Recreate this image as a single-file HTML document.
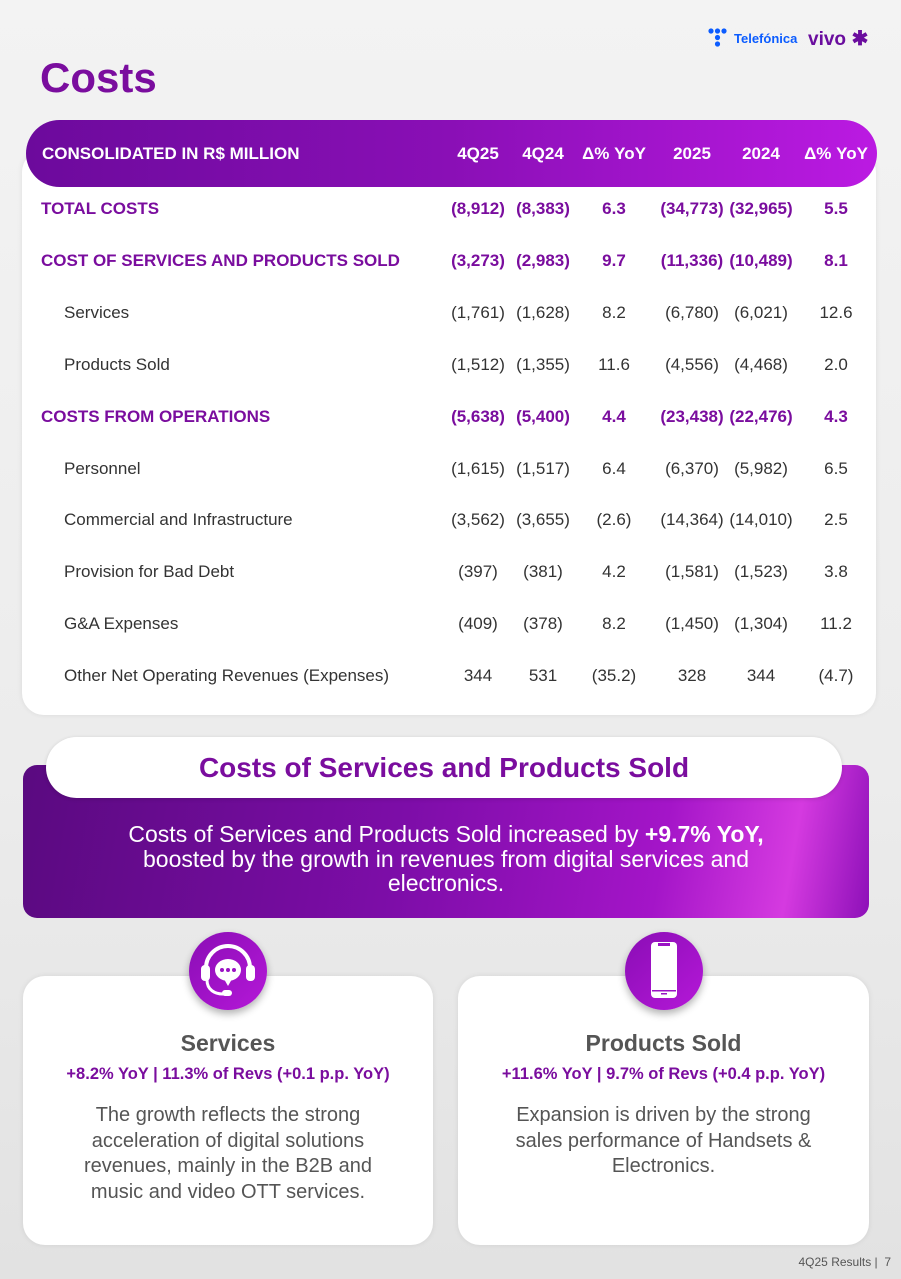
<!DOCTYPE html>
<html><head><meta charset="utf-8">
<style>
*{margin:0;padding:0;box-sizing:border-box}
body{width:901px;height:1279px;overflow:hidden;font-family:"Liberation Sans",sans-serif;background:linear-gradient(180deg,#f3f3f3 0%,#ececec 60%,#e2e2e2 100%);position:relative}
.abs{position:absolute}
.title{left:40px;top:54px;font-size:42px;font-weight:bold;color:#7a0d9e}
.card{background:#fff;border-radius:22px;box-shadow:0 0 6px rgba(0,0,0,.08)}
.hdr{left:26px;top:120px;width:851px;height:67px;border-radius:34px;background:linear-gradient(90deg,#6c0a9c 0%,#8a0fb6 50%,#bb1ae2 100%);color:#fff;font-weight:bold;font-size:17px}
.cell{position:absolute;transform:translateX(-50%);white-space:nowrap;font-size:17px}
.row{position:absolute;left:0;width:901px;height:24px}
.lbl{position:absolute;white-space:nowrap;font-size:17px}
.b{font-weight:bold;color:#7a0d9e}
.n{color:#333}
.banner{left:23px;top:765px;width:846px;height:153px;border-radius:14px;background:linear-gradient(100deg,#5a0a80 0%,#7d0da8 45%,#a415c8 75%,#d53ae0 90%,#8d10b8 100%)}
.pill{left:46px;top:737px;width:796px;height:61px;border-radius:31px;background:#fff;text-align:center;line-height:61px;font-size:28px;font-weight:bold;color:#7a0d9e;box-shadow:0 1px 4px rgba(0,0,0,.15)}
.btxt{left:23px;top:822px;width:846px;text-align:center;color:#fff;font-size:23px;line-height:24.5px;font-weight:400}
.btxt b{font-weight:700}
.icon{width:78px;height:78px;border-radius:50%;background:linear-gradient(135deg,#8a0db5,#b518d8);box-shadow:0 4px 8px rgba(0,0,0,.3)}
.ct{text-align:center;font-size:23px;font-weight:bold;color:#555}
.cs{text-align:center;font-size:16.5px;font-weight:bold;color:#7a0d9e}
.cb{text-align:center;font-size:20px;color:#555;line-height:25.5px}
</style></head><body>
<div class="abs" style="left:708px;top:28px;width:92px;height:24px">
<svg width="24" height="24" class="abs" style="left:0;top:0"><g fill="#0b5cff"><circle cx="3" cy="3" r="2.6"/><circle cx="9.5" cy="3" r="2.6"/><circle cx="16" cy="3" r="2.6"/><circle cx="9.5" cy="9.5" r="2.6"/><circle cx="9.5" cy="16" r="2.6"/></g></svg>
<span class="abs" style="left:26px;top:3px;font-size:13px;font-weight:bold;color:#0b5cff">Telefónica</span></div>
<div class="abs" style="left:808px;top:26px;font-size:19px;font-weight:bold;color:#6a0d9e">vivo<span style="font-size:20px"> ✱</span></div>
<div class="abs title">Costs</div>

<div class="abs card" style="left:22px;top:150px;width:854px;height:565px"></div>
<div class="abs hdr">
<span class="abs" style="left:16px;top:24px">CONSOLIDATED IN R$ MILLION</span>
<span class="cell" style="left:452px;top:24px">4Q25</span>
<span class="cell" style="left:517px;top:24px">4Q24</span>
<span class="cell" style="left:588px;top:24px">Δ% YoY</span>
<span class="cell" style="left:666px;top:24px">2025</span>
<span class="cell" style="left:735px;top:24px">2024</span>
<span class="cell" style="left:810px;top:24px">Δ% YoY</span>
</div>
<div id="rows"></div>

<div class="abs banner"></div>
<div class="abs pill">Costs of Services and Products Sold</div>
<div class="abs btxt">Costs of Services and Products Sold increased by <b>+9.7% YoY,</b><br>boosted by the growth in revenues from digital services and<br>electronics.</div>

<div class="abs card" style="left:23px;top:976px;width:410px;height:269px"></div>
<div class="abs card" style="left:458px;top:976px;width:411px;height:269px"></div>
<div class="abs icon" style="left:189px;top:932px">
<svg width="78" height="78" viewBox="0 0 78 78"><g fill="#fff"><rect x="12" y="33" width="9" height="16" rx="4"/><rect x="57" y="33" width="9" height="16" rx="4"/><path d="M17 36a22 22 0 0 1 44 0" fill="none" stroke="#fff" stroke-width="4"/><ellipse cx="39" cy="38" rx="13" ry="11"/><path d="M35 47l4 7 4-7z"/><path d="M18 48c0 10 8 14 16 14" fill="none" stroke="#fff" stroke-width="3"/><rect x="33" y="58" width="10" height="6" rx="3"/></g><g fill="#9a12c4"><circle cx="33" cy="38" r="2"/><circle cx="39" cy="38" r="2"/><circle cx="45" cy="38" r="2"/></g></svg></div>
<div class="abs icon" style="left:625px;top:932px">
<svg width="78" height="78" viewBox="0 0 78 78"><rect x="26" y="10" width="26" height="56" rx="4" fill="#fff"/><rect x="33" y="11" width="12" height="3" fill="#9a12c4"/><rect x="27" y="58" width="24" height="1.5" fill="#9a12c4"/><rect x="36" y="61" width="6" height="1.5" fill="#9a12c4"/></svg></div>

<div class="abs ct" style="left:23px;top:1030px;width:410px">Services</div>
<div class="abs cs" style="left:23px;top:1065px;width:410px">+8.2% YoY | 11.3% of Revs (+0.1 p.p. YoY)</div>
<div class="abs cb" style="left:23px;top:1103px;width:410px">The growth reflects the strong<br>acceleration of digital solutions<br>revenues, mainly in the B2B and<br>music and video OTT services.</div>
<div class="abs ct" style="left:458px;top:1030px;width:411px">Products Sold</div>
<div class="abs cs" style="left:458px;top:1065px;width:411px">+11.6% YoY | 9.7% of Revs (+0.4 p.p. YoY)</div>
<div class="abs cb" style="left:458px;top:1103px;width:411px">Expansion is driven by the strong<br>sales performance of Handsets &amp;<br>Electronics.</div>

<div class="abs" style="right:10px;top:1255px;font-size:12px;color:#555">4Q25 Results |&nbsp; 7</div>

<script>
const labels=["TOTAL COSTS","COST OF SERVICES AND PRODUCTS SOLD","Services","Products Sold","COSTS FROM OPERATIONS","Personnel","Commercial and Infrastructure","Provision for Bad Debt","G&A Expenses","Other Net Operating Revenues (Expenses)"];
const bold=[1,1,0,0,1,0,0,0,0,0];
const q25=["(8,912)","(3,273)","(1,761)","(1,512)","(5,638)","(1,615)","(3,562)","(397)","(409)","344"];
const q24=["(8,383)","(2,983)","(1,628)","(1,355)","(5,400)","(1,517)","(3,655)","(381)","(378)","531"];
const dq=["6.3","9.7","8.2","11.6","4.4","6.4","(2.6)","4.2","8.2","(35.2)"];
const y25=["(34,773)","(11,336)","(6,780)","(4,556)","(23,438)","(6,370)","(14,364)","(1,581)","(1,450)","328"];
const y24=["(32,965)","(10,489)","(6,021)","(4,468)","(22,476)","(5,982)","(14,010)","(1,523)","(1,304)","344"];
const dy=["5.5","8.1","12.6","2.0","4.3","6.5","2.5","3.8","11.2","(4.7)"];
const colX=[478,543,614,692,761,836];
const host=document.getElementById('rows');
labels.forEach((l,i)=>{
 const r=document.createElement('div');
 r.className='row';
 
 
 r.style.top=(199+i*51.9)+'px';
 const cls=bold[i]?'b':'n';
 let h=`<span class="lbl ${cls}" style="left:${bold[i]?41:64}px">${l.replace('&','&amp;')}</span>`;
 [q25[i],q24[i],dq[i],y25[i],y24[i],dy[i]].forEach((v,j)=>{h+=`<span class="cell ${cls}" style="left:${colX[j]}px">${v}</span>`;});
 r.innerHTML=h;
 host.appendChild(r);
});
</script>
</body></html>
